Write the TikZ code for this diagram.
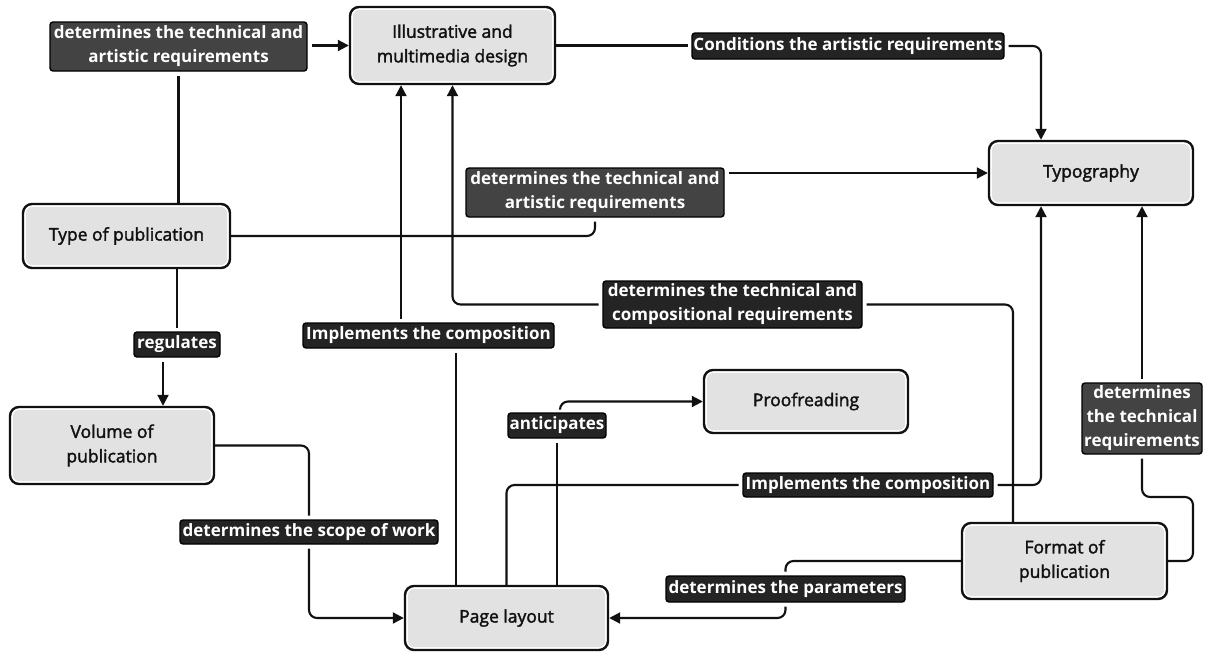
\documentclass[tikz,border=0pt]{standalone}
\usepackage{fontspec}
\setmainfont{Open Sans}
\newfontfamily\boxfont[FakeBold=2]{Open Sans}
\usetikzlibrary{arrows.meta}
\definecolor{boxfill}{HTML}{E2E2E2}
\definecolor{tagdark}{HTML}{242424}
\definecolor{tagmid}{HTML}{434343}
\definecolor{ink}{HTML}{111111}
\tikzset{
  concept/.style={draw=ink, line width=2.4pt, rounded corners=9pt, fill=white,
    inner sep=0pt, align=center, text=ink,
    font=\boxfont\fontsize{17.5}{24.5}\selectfont,
    path picture={\fill[boxfill, rounded corners=6pt]
      ([shift={(3pt,3pt)}]path picture bounding box.south west) rectangle
      ([shift={(-3pt,-3pt)}]path picture bounding box.north east);}},
  tag/.style={draw=black, line width=1.4pt, rounded corners=3pt, fill=tagdark,
    text=white, font=\bfseries\fontsize{17}{24}\selectfont,
    inner sep=0pt, outer sep=4.5pt, align=center},
  wire/.style={draw=ink, line width=2.1pt, rounded corners=8pt},
  arr/.style={wire, -{Triangle[length=11pt,width=11pt]}}
}
\begin{document}
\begin{tikzpicture}[x=1pt,y=-1pt]
\useasboundingbox (0,0) rectangle (1206,653);
\fill[white] (0,0) rectangle (1206,653);

% concept boxes
\node[concept, minimum width=205pt, minimum height=77pt] (ill) at (452.5,45.5) {Illustrative and\\multimedia design};
\node[concept, minimum width=204pt, minimum height=64pt] (typ) at (1091,173) {Typography};
\node[concept, minimum width=207pt, minimum height=64pt] (top) at (126.5,236) {Type of publication};
\node[concept, minimum width=204pt, minimum height=77pt] (vol) at (112,445.5) {Volume of\\publication};
\node[concept, minimum width=203pt, minimum height=64pt] (page) at (506.5,618) {Page layout};
\node[concept, minimum width=204pt, minimum height=63pt] (proof) at (806,401.5) {Proofreading};
\node[concept, minimum width=205pt, minimum height=76pt] (fmt) at (1064.5,561) {Format of\\publication};

% relation labels
\node[tag, fill=tagmid, minimum width=257pt, minimum height=49pt] (l1) at (178.5,46.5) {determines the technical and\\artistic requirements};
\node[tag, minimum width=312pt, minimum height=26pt] (lcond) at (848,46) {Conditions the artistic requirements};
\node[tag, fill=tagmid, minimum width=258pt, minimum height=49pt] (l2) at (595,192.5) {determines the technical and\\artistic requirements};
\node[tag, minimum width=259pt, minimum height=47pt] (l3) at (732.5,304.5) {determines the technical and\\compositional requirements};
\node[tag, minimum width=251pt, minimum height=25pt] (limp1) at (428.5,335.5) {Implements the composition};
\node[tag, minimum width=86pt, minimum height=25pt] (lreg) at (177,344.5) {regulates};
\node[tag, minimum width=98pt, minimum height=25pt] (lant) at (557,425.5) {anticipates};
\node[tag, fill=tagmid, minimum width=120pt, minimum height=71pt] (l4) at (1142,418.5) {determines\\the technical\\requirements};
\node[tag, minimum width=250pt, minimum height=24pt] (limp2) at (868,485) {Implements the composition};
\node[tag, minimum width=258pt, minimum height=24pt] (lscope) at (309,532) {determines the scope of work};
\node[tag, minimum width=239pt, minimum height=26pt] (lparam) at (785.5,589) {determines the parameters};

% helper points on box edges
\coordinate (tA) at ([xshift=-50pt]typ.north);
\coordinate (tB) at ([xshift=-50pt]typ.south);
\coordinate (vA) at ([xshift=-14pt]lreg.south);
\coordinate (pA) at ([xshift=-50.5pt]page.north);
\coordinate (iA) at ([xshift=-51.5pt]ill.south);
\coordinate (fA) at ([xshift=-51.5pt]fmt.north);
\coordinate (aA) at ([xshift=3pt]lant.north);
\coordinate (fB) at (1193,497);

% connectors
\draw[wire] (l1.south |- top.north) -- (l1.south);
\draw[arr] (l1.east |- ill.west) -- (ill.west);
\draw[wire] (ill.east) -- (lcond.west |- ill.east);
\draw[arr] (lcond.east) -| (tA);
\draw[wire] (top.east) -| (l2.south);
\draw[arr] (l2.east |- typ.west) -- (typ.west);
\draw[wire] (lreg.north |- top.south) -- (lreg.north);
\draw[arr] (vA) -- (vA |- vol.north);
\draw[wire] (vol.east) -| (lscope.north);
\draw[arr] (lscope.south) |- (page.west);
\draw[wire] (pA) -- (pA |- limp1.south);
\draw[arr] (iA |- limp1.north) -- (iA);
\draw[wire] (fA) |- (l3.east);
\draw[arr] (l3.west) -| (ill.south);
\draw[wire] (fmt.east) -| (fB) -| (l4.south);
\draw[arr] (l4.north) -- (l4.north |- typ.south);
\draw[wire] (fmt.west) -| (lparam.north);
\draw[arr] (lparam.south) |- (page.east);
\draw[wire] (lant.south |- page.north) -- (lant.south);
\draw[arr] (aA) |- (proof.west);
\draw[wire] (page.north) |- (limp2.west);
\draw[arr] (limp2.east) -| (tB);
\end{tikzpicture}
\end{document}
